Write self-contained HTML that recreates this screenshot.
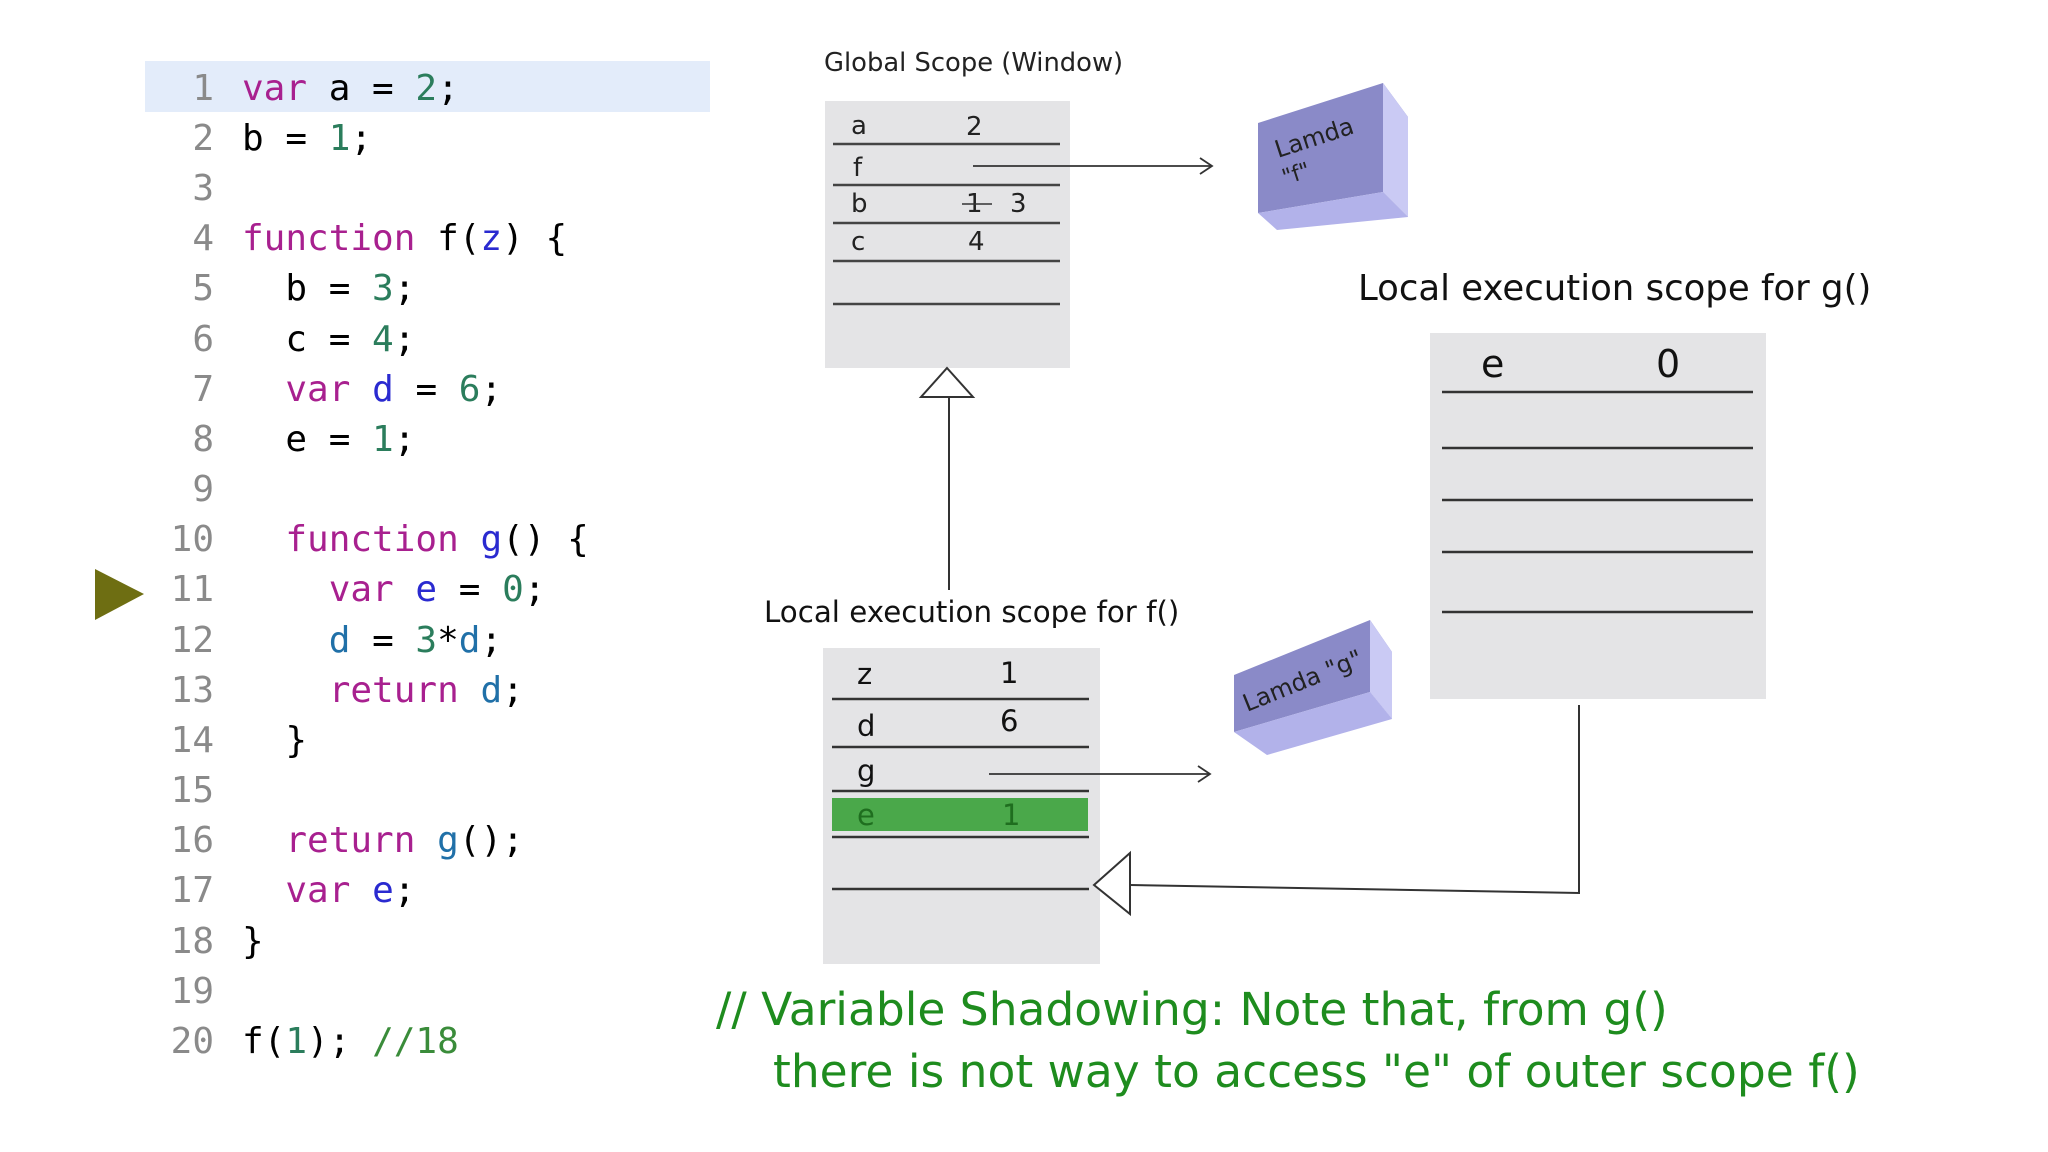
<!DOCTYPE html>
<html><head><meta charset="utf-8"><style>
html,body{margin:0;padding:0;background:#fff;}
svg{display:block;}
.code{font-family:"DejaVu Sans Mono","Liberation Mono",monospace;font-size:36px;}
.ln{fill:#8a8a8a;}
.kw{fill:#a8208f;}
.num{fill:#2b7d5c;}
.var{fill:#2a2ad0;}
.fn{fill:#2070a8;}
.s{font-family:"DejaVu Sans","Liberation Sans",sans-serif;}
</style></head><body>
<svg width="2048" height="1152" viewBox="0 0 2048 1152" xmlns="http://www.w3.org/2000/svg">
<rect x="145" y="61" width="565" height="51" fill="#e3ecfa"/>
<polygon points="95,569 144,594 95,620" fill="#6e6e12"/>
<g class="code">
<g class="ln" text-anchor="end">
<text x="214" y="100">1</text><text x="214" y="150">2</text><text x="214" y="200">3</text><text x="214" y="250">4</text><text x="214" y="300">5</text><text x="214" y="351">6</text><text x="214" y="401">7</text><text x="214" y="451">8</text><text x="214" y="501">9</text><text x="214" y="551">10</text><text x="214" y="601">11</text><text x="214" y="652">12</text><text x="214" y="702">13</text><text x="214" y="752">14</text><text x="214" y="802">15</text><text x="214" y="852">16</text><text x="214" y="902">17</text><text x="214" y="953">18</text><text x="214" y="1003">19</text><text x="214" y="1053">20</text>
</g>
<text x="242" y="100" xml:space="preserve"><tspan class="kw">var</tspan> a = <tspan class="num">2</tspan>;</text>
<text x="242" y="150" xml:space="preserve">b = <tspan class="num">1</tspan>;</text>
<text x="242" y="250" xml:space="preserve"><tspan class="kw">function</tspan> f(<tspan class="var">z</tspan>) {</text>
<text x="242" y="300" xml:space="preserve">  b = <tspan class="num">3</tspan>;</text>
<text x="242" y="351" xml:space="preserve">  c = <tspan class="num">4</tspan>;</text>
<text x="242" y="401" xml:space="preserve">  <tspan class="kw">var</tspan> <tspan class="var">d</tspan> = <tspan class="num">6</tspan>;</text>
<text x="242" y="451" xml:space="preserve">  e = <tspan class="num">1</tspan>;</text>
<text x="242" y="551" xml:space="preserve">  <tspan class="kw">function</tspan> <tspan class="var">g</tspan>() {</text>
<text x="242" y="601" xml:space="preserve">    <tspan class="kw">var</tspan> <tspan class="var">e</tspan> = <tspan class="num">0</tspan>;</text>
<text x="242" y="652" xml:space="preserve">    <tspan class="fn">d</tspan> = <tspan class="num">3</tspan>*<tspan class="fn">d</tspan>;</text>
<text x="242" y="702" xml:space="preserve">    <tspan class="kw">return</tspan> <tspan class="fn">d</tspan>;</text>
<text x="242" y="752" xml:space="preserve">  }</text>
<text x="242" y="852" xml:space="preserve">  <tspan class="kw">return</tspan> <tspan class="fn">g</tspan>();</text>
<text x="242" y="902" xml:space="preserve">  <tspan class="kw">var</tspan> <tspan class="var">e</tspan>;</text>
<text x="242" y="953" xml:space="preserve">}</text>
<text x="242" y="1053" xml:space="preserve">f(<tspan class="num">1</tspan>); <tspan fill="#3a8c3a">//18</tspan></text>
</g>

<g class="s">
<text x="824" y="71" font-size="25.8" fill="#222">Global Scope (Window)</text>
<rect x="825" y="101" width="245" height="267" fill="#e4e4e6"/>
<g stroke="#444" stroke-width="2.5">
<line x1="833" y1="144" x2="1060" y2="144"/><line x1="833" y1="185" x2="1060" y2="185"/><line x1="833" y1="223" x2="1060" y2="223"/><line x1="833" y1="261" x2="1060" y2="261"/><line x1="833" y1="304" x2="1060" y2="304"/>
</g>
<g font-size="26" fill="#222">
<text x="851" y="134">a</text><text x="966" y="135">2</text>
<text x="853" y="176">f</text>
<text x="851" y="212">b</text><text x="966" y="212">1</text><text x="1010" y="212">3</text>
<text x="851" y="250">c</text><text x="968" y="250">4</text>
</g>
<line x1="962" y1="204" x2="992" y2="204" stroke="#333" stroke-width="1.5"/>
<line x1="973" y1="166" x2="1212" y2="166" stroke="#333" stroke-width="1.8"/>
<polyline points="1200,158 1212,166 1200,174" fill="none" stroke="#333" stroke-width="1.8"/>

<polygon points="1258,123 1383,83 1408,117 1408,217 1383,192 1258,213" fill="#8a8ac8"/>
<polygon points="1383,83 1408,117 1408,217 1383,192" fill="#cacaf4"/>
<polygon points="1258,213 1383,192 1408,217 1277,230" fill="#b2b2ea"/>
<text transform="translate(1278,158) rotate(-18)" font-size="24" fill="#222">Lamda</text>
<text transform="translate(1285,185) rotate(-18)" font-size="22" fill="#222">"f"</text>

<line x1="949" y1="397" x2="949" y2="590" stroke="#333" stroke-width="2"/>
<polygon points="947,368 973,397 921,397" fill="#fff" stroke="#333" stroke-width="2"/>

<text x="1358" y="300" font-size="35.5" fill="#111">Local execution scope for g()</text>
<rect x="1430" y="333" width="336" height="366" fill="#e4e4e6"/>
<g stroke="#333" stroke-width="2.5">
<line x1="1442" y1="392" x2="1753" y2="392"/><line x1="1442" y1="448" x2="1753" y2="448"/><line x1="1442" y1="500" x2="1753" y2="500"/><line x1="1442" y1="552" x2="1753" y2="552"/><line x1="1442" y1="612" x2="1753" y2="612"/>
</g>
<text x="1481" y="377" font-size="38" fill="#111">e</text><text x="1656" y="377" font-size="38" fill="#111">0</text>

<text x="764" y="622" font-size="29.3" fill="#111">Local execution scope for f()</text>
<rect x="823" y="648" width="277" height="316" fill="#e4e4e6"/>
<rect x="832" y="798" width="256" height="33" fill="#4aa84a"/>
<g stroke="#333" stroke-width="2.5">
<line x1="832" y1="699" x2="1089" y2="699"/><line x1="832" y1="747" x2="1089" y2="747"/><line x1="832" y1="791" x2="1089" y2="791"/><line x1="832" y1="837" x2="1089" y2="837"/><line x1="832" y1="889" x2="1089" y2="889"/>
</g>
<g font-size="29" fill="#111">
<text x="857" y="684">z</text><text x="1000" y="683">1</text>
<text x="857" y="736">d</text><text x="1000" y="731">6</text>
<text x="857" y="781">g</text>
<text x="857" y="825" fill="#1f6e1f">e</text><text x="1002" y="825" fill="#1f6e1f">1</text>
</g>
<line x1="989" y1="774" x2="1210" y2="774" stroke="#333" stroke-width="1.8"/>
<polyline points="1198,766 1210,774 1198,782" fill="none" stroke="#333" stroke-width="1.8"/>

<polygon points="1234,675 1370,620 1392,652 1392,719 1370,692 1234,732" fill="#8a8ac8"/>
<polygon points="1370,620 1392,652 1392,719 1370,692" fill="#cacaf4"/>
<polygon points="1234,732 1370,692 1392,719 1267,755" fill="#b2b2ea"/>
<text transform="translate(1247,712) rotate(-22)" font-size="24" fill="#222">Lamda "g"</text>

<polyline points="1579,705 1579,893 1130,885" fill="none" stroke="#333" stroke-width="2"/>
<polygon points="1094,885 1130,853 1130,914" fill="#fff" stroke="#333" stroke-width="2"/>

<g font-size="45.5" fill="#1e8c1e">
<text x="716" y="1025">// Variable Shadowing: Note that, from g()</text>
<text x="773" y="1087">there is not way to access "e" of outer scope f()</text>
</g>
</g>
</svg>
</body></html>
